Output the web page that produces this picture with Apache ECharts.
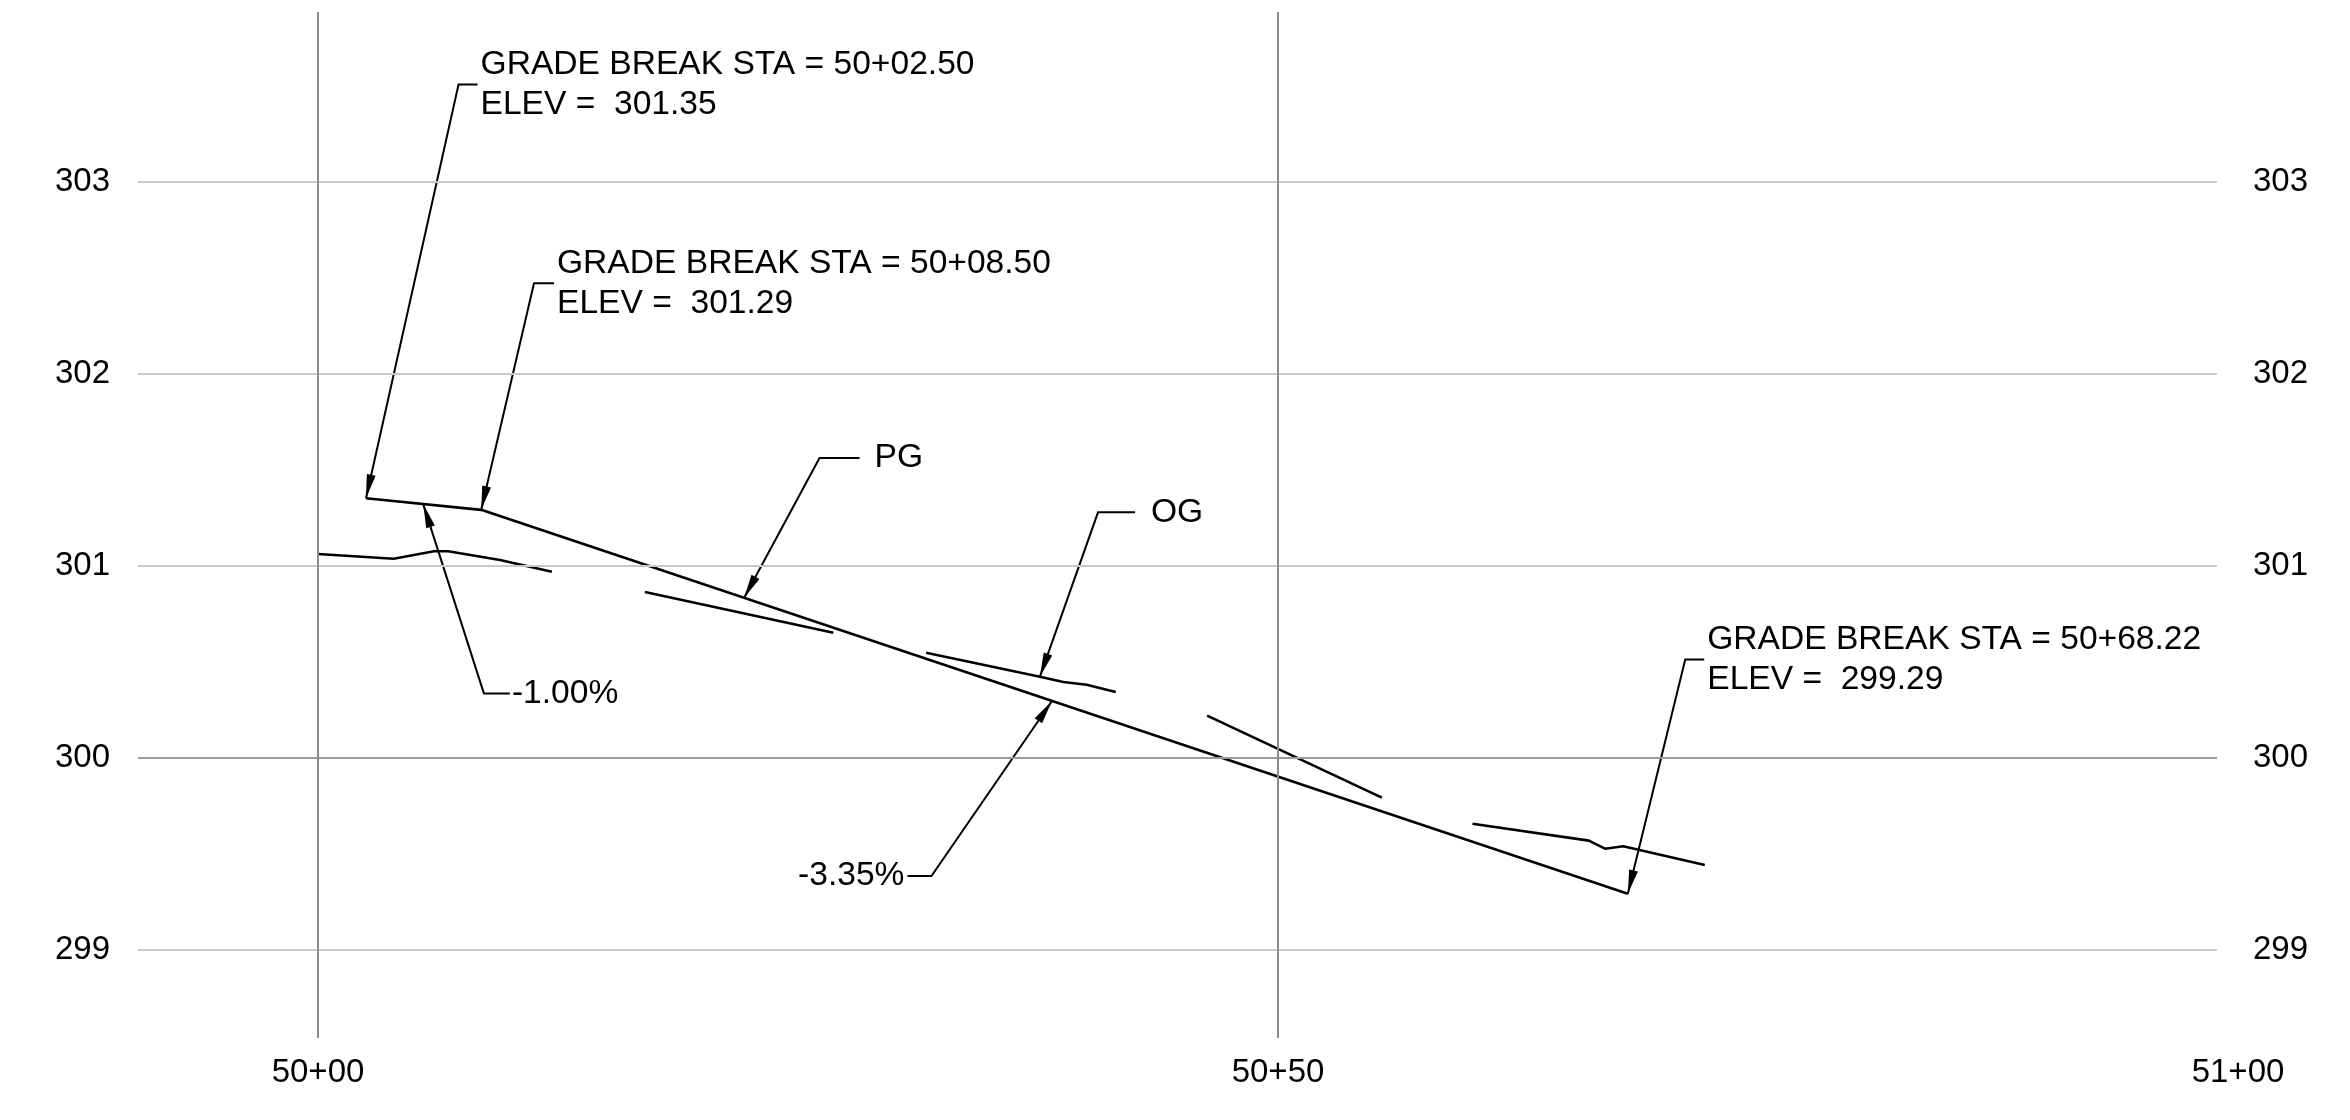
<!DOCTYPE html>
<html>
<head>
<meta charset="utf-8">
<title>Profile 50+00 - 51+00</title>
<script src="https://cdn.jsdelivr.net/npm/echarts@6/dist/echarts.min.js"></script>
<style>
html, body { margin: 0; padding: 0; background: #fff; }
#main { width: 2350px; height: 1120px; }
</style>
</head>
<body>
<div id="main"></div>
<script>
// stations are feet past 50+00, elevations in feet

// proposed grade (PG)
var pgSta = [2.5, 8.5, 68.22];
var pgElev = [301.35, 301.29, 299.29];

// original ground (OG), drawn in broken pieces
var og1 = [[0, 301.06], [3.94, 301.035], [6.04, 301.074], [6.78, 301.074], [9.48, 301.029], [12.18, 300.968]];
var og2 = [[17.03, 300.862], [26.84, 300.65]];
var og3 = [[31.67, 300.546], [37.6, 300.421], [38.82, 300.393], [40.03, 300.379], [41.55, 300.341]];
var og4 = [[46.31, 300.218], [55.41, 299.791]];
var og5 = [[60.13, 299.655], [66.19, 299.567], [67.03, 299.525], [67.98, 299.538], [72.23, 299.44]];
var ogParts = [og1, og2, og3, og4, og5];

// tick labels
var elevTicks = [299, 300, 301, 302, 303];
var staTicks = [0, 50, 100];
var staLines = [0, 50];

// callouts: arrow tip, leader elbow, text
var noteTip = [[2.5, 301.35], [8.5, 301.29], [22.19, 300.831], [37.6, 300.421], [5.48, 301.32], [38.23, 300.294], [68.22, 299.29]];
var noteElbow = [[7.32, 303.505], [11.25, 302.47], [26.12, 301.56], [40.625, 301.277], [8.64, 300.334], [31.95, 299.383], [71.21, 300.511]];
var noteText = [
	['GRADE BREAK STA = 50+02.50', 'ELEV =  301.35'],
	['GRADE BREAK STA = 50+08.50', 'ELEV =  301.29'],
	['PG'],
	['OG'],
	['-1.00%'],
	['-3.35%'],
	['GRADE BREAK STA = 50+68.22', 'ELEV =  299.29']
];

// leader tail: direction, length, gap before text (px)
var noteTail = [
	{dir: 1, len: 19, gap: 3},
	{dir: 1, len: 20, gap: 3},
	{dir: 1, len: 40, gap: 15},
	{dir: 1, len: 37, gap: 16},
	{dir: 1, len: 26, gap: 2},
	{dir: -1, len: 24, gap: 3},
	{dir: 1, len: 19, gap: 3}
];

var FONT = '"Liberation Sans", Arial, Helvetica, sans-serif';

function staLabel(v) {
	var s = 5000 + v;
	var hund = Math.floor(s / 100);
	var rest = s - hund * 100;
	return hund + '+' + (rest < 10 ? '0' : '') + rest;
}

function renderNote(params, api) {
	var i = params.dataIndex;
	var tip = api.coord(noteTip[i]);
	var elb = api.coord(noteElbow[i]);
	var t = noteTail[i];
	var end = [elb[0] + t.dir * t.len, elb[1]];

	// arrow head at the tip
	var ang = Math.atan2(tip[1] - elb[1], tip[0] - elb[0]);
	var L = 24, W = 4.5;
	var bx = tip[0] - L * Math.cos(ang), by = tip[1] - L * Math.sin(ang);
	var px = -Math.sin(ang) * W, py = Math.cos(ang) * W;

	var children = [
		{
			type: 'polyline',
			shape: {points: [tip, elb, end]},
			style: {stroke: '#000', lineWidth: 2, fill: null}
		},
		{
			type: 'polygon',
			shape: {points: [tip, [bx + px, by + py], [bx - px, by - py]]},
			style: {fill: '#000', stroke: null}
		}
	];

	var lines = noteText[i];
	var tx = end[0] + t.dir * t.gap;
	for (var k = 0; k < lines.length; k++) {
		var ty = lines.length == 1 ? end[1] : end[1] + (k == 0 ? -20 : 20);
		children.push({
			type: 'text',
			style: {
				text: lines[k],
				x: tx,
				y: ty,
				fill: '#000',
				font: '33.6px ' + FONT,
				align: t.dir > 0 ? 'left' : 'right',
				verticalAlign: 'middle',
				textAlign: t.dir > 0 ? 'left' : 'right',
				textVerticalAlign: 'middle'
			}
		});
	}
	return {type: 'group', children: children};
}

var chart = echarts.init(document.getElementById('main'));

// grid lines
var hLines = [];
for (var i = 0; i < elevTicks.length; i++) {
	hLines.push({
		yAxis: elevTicks[i],
		lineStyle: {color: elevTicks[i] == 300 ? '#9a9a9a' : '#c8c8c8', width: 2, type: 'solid'}
	});
}
var vLines = [];
for (var i = 0; i < staLines.length; i++) {
	vLines.push({xAxis: staLines[i], lineStyle: {color: '#8c8c8c', width: 2, type: 'solid'}});
}

var pgData = [];
for (var i = 0; i < pgSta.length; i++) {
	pgData.push([pgSta[i], pgElev[i]]);
}

var series = [
	{
		name: 'grid',
		type: 'line',
		data: [[0, 300]],
		showSymbol: false,
		silent: true,
		z: 1,
		lineStyle: {width: 0},
		markLine: {
			silent: true,
			symbol: ['none', 'none'],
			label: {show: false},
			animation: false,
			data: hLines.concat(vLines)
		}
	},
	{
		name: 'PG',
		type: 'line',
		data: pgData,
		showSymbol: false,
		silent: true,
		z: 3,
		lineStyle: {color: '#000', width: 2.6}
	}
];

for (var i = 0; i < ogParts.length; i++) {
	series.push({
		name: 'OG',
		type: 'line',
		data: ogParts[i],
		showSymbol: false,
		silent: true,
		z: 3,
		lineStyle: {color: '#000', width: 2.6}
	});
}

var noteData = [];
for (var i = 0; i < noteTip.length; i++) {
	noteData.push([noteTip[i][0], noteTip[i][1], i]);
}
series.push({
	type: 'custom',
	renderItem: renderNote,
	data: noteData,
	encode: {x: 0, y: 1},
	silent: true,
	z: 4
});

var option = {
	backgroundColor: '#fff',
	animation: false,
	grid: [
		{left: 138, right: 133, top: 12, bottom: 82},
		{left: 138, right: 112, top: 12, bottom: 82}
	],
	xAxis: [
		{
			type: 'value', gridIndex: 0, min: -9.375, max: 98.906,
			axisLine: {show: false}, axisTick: {show: false},
			axisLabel: {show: false}, splitLine: {show: false}
		},
		{
			type: 'value', gridIndex: 1, min: -9.375, max: 100,
			axisLine: {show: false}, axisTick: {show: false}, splitLine: {show: false},
			axisLabel: {
				customValues: staTicks,
				formatter: staLabel,
				margin: 18,
				color: '#000',
				fontSize: 33,
				fontFamily: FONT
			}
		}
	],
	yAxis: [
		{
			type: 'value', gridIndex: 0, min: 298.539, max: 303.883, position: 'left',
			axisLine: {show: false}, axisTick: {show: false}, splitLine: {show: false},
			axisLabel: {customValues: elevTicks, margin: 28, color: '#000', fontSize: 33, fontFamily: FONT}
		},
		{
			type: 'value', gridIndex: 0, min: 298.539, max: 303.883, position: 'right',
			axisLine: {show: false}, axisTick: {show: false}, splitLine: {show: false},
			axisLabel: {customValues: elevTicks, margin: 36, color: '#000', fontSize: 33, fontFamily: FONT}
		},
		{
			type: 'value', gridIndex: 1, min: 298.539, max: 303.883, show: false
		}
	],
	series: series
};

chart.setOption(option);
</script>
</body>
</html>
